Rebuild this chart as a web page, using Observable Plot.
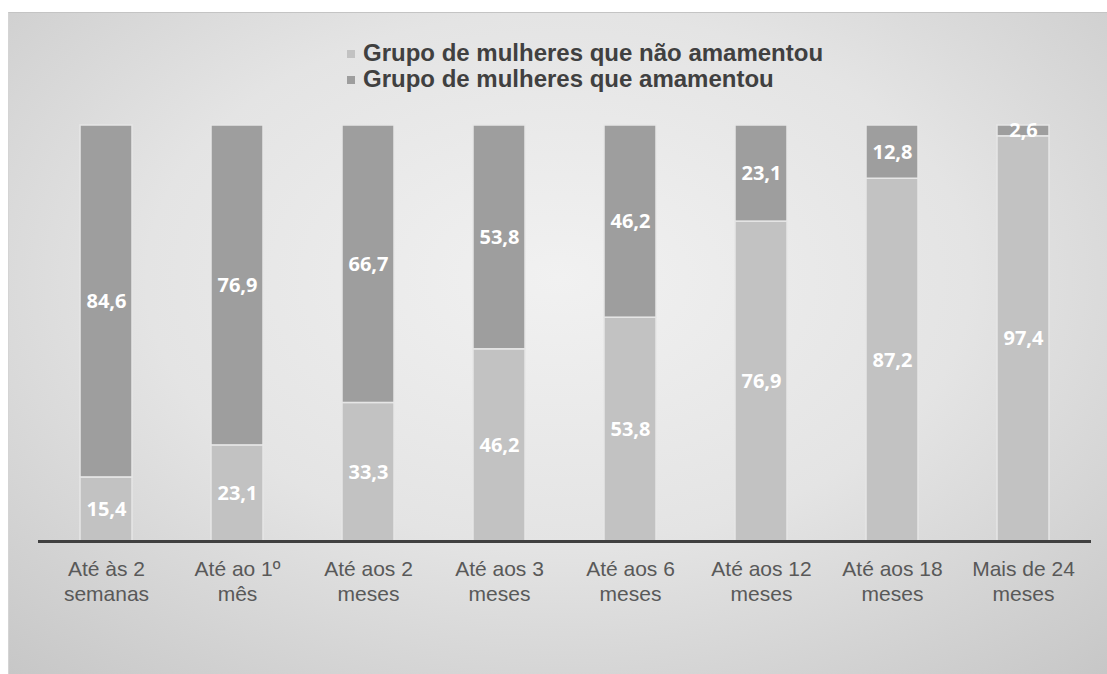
<!DOCTYPE html>
<html>
<head>
<meta charset="utf-8">
<script src="https://cdn.jsdelivr.net/npm/d3@7"></script>
<script src="https://cdn.jsdelivr.net/npm/@observablehq/plot@0.6"></script>
<style>
  html, body { margin: 0; padding: 0; background: #ffffff; }
  #wrap { position: relative; width: 1107px; height: 674px; overflow: hidden; }
  #panel {
    position: absolute; left: 8px; top: 12px; width: 1099px; height: 662px;
    background: radial-gradient(ellipse 75% 80% at 50% 40%, #f1f1f1 0%, #e4e4e4 50%, #c7c7c7 100%);
    border-top: 1px solid #c4c4c4; border-left: 1px solid #d4d4d4;
  }
  #legend {
    position: relative; height: 100px;
    font-family: "Liberation Sans", Arial, sans-serif; font-weight: bold;
    font-size: 24px; color: #404040;
  }
  .item { position: absolute; left: 347px; white-space: nowrap; line-height: 26px; }
  .sw { display: inline-block; width: 8px; height: 8px; margin-right: 8px; vertical-align: 3px; }
  #chart { position: relative; }
  #chart svg { background: transparent; display: block; }
</style>
</head>
<body>
<div id="wrap">
  <div id="panel"></div>
  <div id="legend"></div>
  <div id="chart"></div>
</div>
<script>
const categories = ["Até às 2\nsemanas", "Até ao 1º\nmês", "Até aos 2\nmeses", "Até aos 3\nmeses", "Até aos 6\nmeses", "Até aos 12\nmeses", "Até aos 18\nmeses", "Mais de 24\nmeses"];
const groups = ["Grupo de mulheres que não amamentou", "Grupo de mulheres que amamentou"];
const naoAmamentou = [15.4, 23.1, 33.3, 46.2, 53.8, 76.9, 87.2, 97.4];
const amamentou = [84.6, 76.9, 66.7, 53.8, 46.2, 23.1, 12.8, 2.6];
const colors = ["#c2c2c2", "#9e9e9e"];

const data = [];
categories.forEach((c, i) => data.push({cat: c, group: groups[0], value: naoAmamentou[i]}));
categories.forEach((c, i) => data.push({cat: c, group: groups[1], value: amamentou[i]}));

const legend = document.getElementById("legend");
groups.forEach((g, i) => {
  const d = document.createElement("div");
  d.className = "item";
  d.style.top = (40 + i * 26) + "px";
  d.innerHTML = `<span class="sw" style="background:${colors[i]}"></span>${g}`;
  legend.appendChild(d);
});

const fmt = v => v.toFixed(1).replace(".", ",");

const chart = Plot.plot({
  width: 1107,
  height: 574,
  marginTop: 25,
  marginBottom: 133,
  marginLeft: 38,
  marginRight: 16,
  style: {background: "transparent", overflow: "visible"},
  x: {domain: categories, paddingInner: 0.6, paddingOuter: 0.3, label: null},
  y: {domain: [0, 100], axis: null},
  color: {domain: groups, range: colors},
  marks: [
    Plot.barY(data, {x: "cat", y: "value", fill: "group", z: "group", stroke: "#e6e6e6", strokeWidth: 1.5}),
    Plot.text(data, Plot.stackY({x: "cat", y: "value", z: "group", text: d => fmt(d.value),
      fill: "white", fontFamily: "'Open Sans', sans-serif", fontWeight: "bold", fontSize: 20})),
    Plot.ruleY([0], {stroke: "#404040", strokeWidth: 3}),
    Plot.axisX({tickSize: 0, tickPadding: 17, fontSize: 21, lineHeight: 1.19,
      fontFamily: "'Liberation Sans', Arial, sans-serif", fill: "#595959", label: null})
  ]
});
document.getElementById("chart").appendChild(chart);
</script>
</body>
</html>
